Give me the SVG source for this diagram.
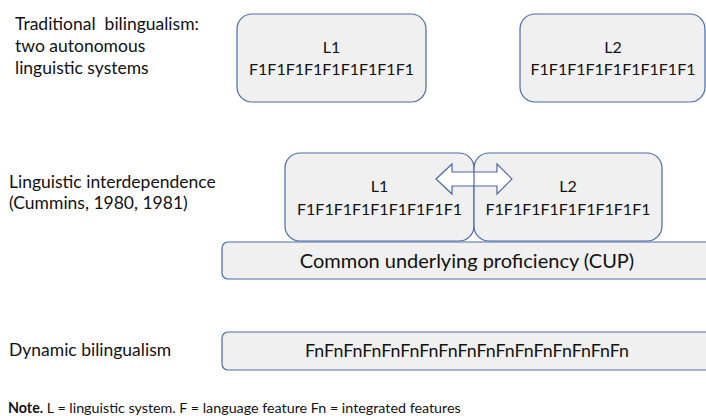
<svg xmlns="http://www.w3.org/2000/svg" width="706" height="416" viewBox="0 0 706 416">
<style>
.box{fill:#f0f0f0;stroke:#4a6aa5;stroke-width:1.2}
.lbl{font-family:Lato,"Liberation Sans",sans-serif;font-size:17.5px;fill:#111111;white-space:pre}
.bt{font-family:Lato,"Liberation Sans",sans-serif;font-size:16px;fill:#111111;text-anchor:middle}
.arr{fill:#ffffff;stroke:#4a6aa5;stroke-width:1.2;stroke-linejoin:miter}
</style>
<rect width="706" height="416" fill="#ffffff"/>
<g id="label-traditional">
<text class="lbl" x="15" y="30" xml:space="preserve">Traditional  bilingualism:</text>
<text class="lbl" x="15" y="52">two autonomous</text>
<text class="lbl" x="15" y="74">linguistic systems</text>
</g>
<g id="label-interdependence">
<text class="lbl" x="9" y="188">Linguistic interdependence</text>
<text class="lbl" x="9" y="209">(Cummins, 1980, 1981)</text>
</g>
<g id="label-dynamic">
<text class="lbl" x="9" y="356">Dynamic bilingualism</text>
</g>
<g id="top-L1">
<rect class="box" x="237" y="14" width="189" height="88" rx="15"/>
<text class="bt" x="331.5" y="53">L1</text>
<text class="bt" x="331.5" y="75">F1F1F1F1F1F1F1F1F1</text>
</g>
<g id="top-L2">
<rect class="box" x="520" y="14" width="185" height="88" rx="15"/>
<text class="bt" x="613" y="53">L2</text>
<text class="bt" x="613" y="75">F1F1F1F1F1F1F1F1F1</text>
</g>
<g id="cup">
<rect class="box" x="222" y="242" width="492" height="37" rx="6"/>
<text class="bt" x="467" y="268" style="font-size:20px">Common underlying proficiency (CUP)</text>
</g>
<g id="mid-L1">
<rect class="box" x="285" y="153" width="189" height="88" rx="15"/>
<text class="bt" x="379.5" y="192">L1</text>
<text class="bt" x="379.5" y="215">F1F1F1F1F1F1F1F1F1</text>
</g>
<g id="mid-L2">
<rect class="box" x="474" y="153" width="188" height="88" rx="15"/>
<text class="bt" x="568" y="192">L2</text>
<text class="bt" x="568" y="215">F1F1F1F1F1F1F1F1F1</text>
</g>
<g id="connectors">
<polygon class="arr" points="436,179 452,164 452,172 497,172 497,164 512,179 497,194 497,186 452,186 452,194"/>
<line x1="474" y1="172" x2="474" y2="186" stroke="#4a6aa5" stroke-width="1.2"/>
</g>
<g id="dynamic">
<rect class="box" x="222" y="332" width="492" height="38" rx="6"/>
<text class="bt" x="467" y="357" style="font-size:17.8px">FnFnFnFnFnFnFnFnFnFnFnFnFnFnFnFnFn</text>
</g>
<g id="note">
<text class="lbl" x="8" y="413" style="font-size:14.3px"><tspan font-weight="bold">Note.</tspan> L = linguistic system. F = language feature Fn = integrated features</text>
</g>
</svg>
